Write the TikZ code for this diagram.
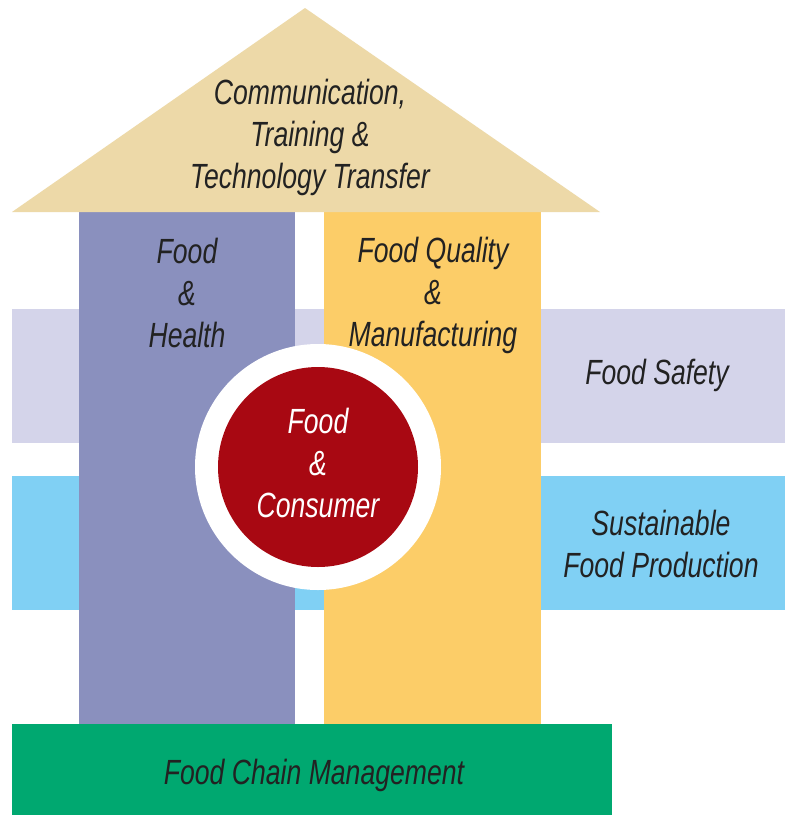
\documentclass[tikz,border=0pt]{standalone}
\usepackage{fontspec}
\setmainfont{Liberation Sans}[FakeStretch=0.76]
\begin{document}
\begin{tikzpicture}[x=1pt,y=-1pt,
  blk/.style={inner sep=0pt,outer sep=0pt,anchor=north west},
  lbl/.style={text=textgray,align=center,font=\fontsize{35}{42}\selectfont\itshape,inner sep=0pt},
]
\definecolor{tan}{HTML}{EDD9A8}
\definecolor{colpurple}{HTML}{8A90BE}
\definecolor{colyellow}{HTML}{FCCD68}
\definecolor{bandlilac}{HTML}{D4D4EA}
\definecolor{bandblue}{HTML}{80D0F4}
\definecolor{consred}{HTML}{A80812}
\definecolor{chaingreen}{HTML}{00A870}
\definecolor{textgray}{HTML}{222222}
\useasboundingbox (0,0) rectangle (785,815);
\fill[white] (0,0) rectangle (785,815);
% horizontal bands
\node[blk,fill=bandlilac,minimum width=773pt,minimum height=134pt] (safety) at (12,309) {};
\node[blk,fill=bandblue,minimum width=773pt,minimum height=134pt] (sustain) at (12,476) {};
% columns
\node[blk,fill=colpurple,minimum width=216pt,minimum height=512pt] (health) at (79,212) {};
\node[blk,fill=colyellow,minimum width=217pt,minimum height=512pt] (quality) at (324,212) {};
% roof
\fill[tan] (12,212) -- (305,8) -- (600,212) -- cycle;
\coordinate (roof) at (310,137);
% central circle
\node[circle,fill=white,minimum size=246pt,inner sep=0pt] (ring) at (318,467) {};
\node[circle,fill=consred,minimum size=200pt,inner sep=0pt] (consumer) at (318,467) {};
% base
\node[blk,fill=chaingreen,minimum width=600pt,minimum height=91pt] (chain) at (12,724) {};
% labels
\node[lbl] (roofl) at (roof) {Communication,\\Training \&\\Technology Transfer};
\node[lbl] (healthl) at (187,293) {Food\\\&\\Health};
\node[lbl] (qualityl) at (433,295) {Food Quality\\\&\\Manufacturing};
\node[lbl] (safetyl) at (657,375) {Food Safety};
\node[lbl] (sustainl) at (661,544) {Sustainable\\Food Production};
\node[lbl,text=white] (consumerl) at (318,463) {Food\\\&\\Consumer};
\node[lbl] (chainl) at (314,775) {Food Chain Management};
\end{tikzpicture}
\end{document}
